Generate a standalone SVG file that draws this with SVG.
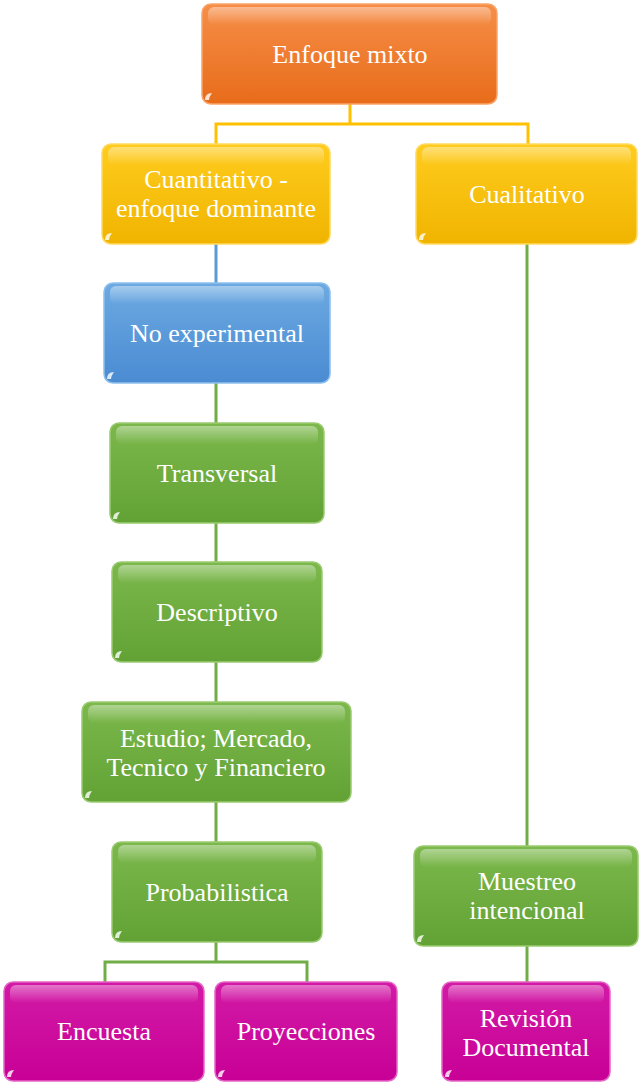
<svg xmlns="http://www.w3.org/2000/svg" width="639" height="1082" viewBox="0 0 639 1082">
  <defs>
    <linearGradient id="gOrange" x1="0" y1="0" x2="0" y2="1">
      <stop offset="0" stop-color="#F68E48"/>
      <stop offset="1" stop-color="#E86C1A"/>
    </linearGradient>
    <linearGradient id="gYellow" x1="0" y1="0" x2="0" y2="1">
      <stop offset="0" stop-color="#FFCC1E"/>
      <stop offset="1" stop-color="#F0B400"/>
    </linearGradient>
    <linearGradient id="gBlue" x1="0" y1="0" x2="0" y2="1">
      <stop offset="0" stop-color="#6DAAE2"/>
      <stop offset="1" stop-color="#4A8BD2"/>
    </linearGradient>
    <linearGradient id="gGreen" x1="0" y1="0" x2="0" y2="1">
      <stop offset="0" stop-color="#7CB84C"/>
      <stop offset="1" stop-color="#62A235"/>
    </linearGradient>
    <linearGradient id="gPink" x1="0" y1="0" x2="0" y2="1">
      <stop offset="0" stop-color="#D21AA6"/>
      <stop offset="1" stop-color="#C80096"/>
    </linearGradient>
    <linearGradient id="gShine" x1="0" y1="0" x2="0" y2="1">
      <stop offset="0" stop-color="#FFFFFF" stop-opacity="0.4"/>
      <stop offset="1" stop-color="#FFFFFF" stop-opacity="0"/>
    </linearGradient>
    <!-- glossy glint in the lower-left corner of each box -->
    <path id="glint" d="M0,0 Q0,-7 7,-7 Q4,-3 4,0 Z" fill="#FFFFFF" fill-opacity="0.8"/>
  </defs>
  <style>
    .box { stroke-width: 1.5; }
    .shine { fill: url(#gShine); }
    .lbl { font-size: 26px; fill: #FFFFFF; text-anchor: middle; }
    .con { fill: none; stroke-width: 3; }
  </style>

  <!-- connectors -->
  <g id="connectors">
    <path class="con" stroke="#FFC000" d="M350,104 V124 M216,145 V124 H528 V145"/>
    <path class="con" stroke="#5B9BD5" d="M216,244 V284"/>
    <path class="con" stroke="#70AD47" d="M216,383 V423 M216,523 V562 M216,662 V702 M216,802 V842"/>
    <path class="con" stroke="#70AD47" d="M216,942 V962 H105 V982 M216,962 H307 V982"/>
    <path class="con" stroke="#70AD47" d="M527,244 V846 M527,946 V982"/>
  </g>

  <g font-family="Liberation Serif, Times New Roman, serif">
  <g id="n-enfoque">
    <rect class="box" x="202" y="4" width="295" height="100" rx="9" fill="url(#gOrange)" stroke="#F9A46A"/>
    <rect class="shine" x="208" y="7" width="283" height="18" rx="6"/>
    <use href="#glint" x="205" y="100"/>
    <text class="lbl" x="350" y="63">Enfoque mixto</text>
  </g>

  <g id="n-cuantitativo">
    <rect class="box" x="102" y="144" width="228" height="100" rx="9" fill="url(#gYellow)" stroke="#FFDA60"/>
    <rect class="shine" x="108" y="147" width="216" height="18" rx="6"/>
    <use href="#glint" x="105" y="240"/>
    <text class="lbl" x="216" y="188">Cuantitativo -</text>
    <text class="lbl" x="216" y="217">enfoque dominante</text>
  </g>

  <g id="n-cualitativo">
    <rect class="box" x="416" y="144" width="221" height="100" rx="9" fill="url(#gYellow)" stroke="#FFDA60"/>
    <rect class="shine" x="422" y="147" width="209" height="18" rx="6"/>
    <use href="#glint" x="419" y="240"/>
    <text class="lbl" x="527" y="203">Cualitativo</text>
  </g>

  <g id="n-noexp">
    <rect class="box" x="104" y="283" width="226" height="100" rx="9" fill="url(#gBlue)" stroke="#8EC0EC"/>
    <rect class="shine" x="110" y="286" width="214" height="18" rx="6"/>
    <use href="#glint" x="107" y="379"/>
    <text class="lbl" x="217" y="342">No experimental</text>
  </g>

  <g id="n-transversal">
    <rect class="box" x="110" y="423" width="214" height="100" rx="9" fill="url(#gGreen)" stroke="#9ACB72"/>
    <rect class="shine" x="116" y="426" width="202" height="18" rx="6"/>
    <use href="#glint" x="113" y="519"/>
    <text class="lbl" x="217" y="482">Transversal</text>
  </g>

  <g id="n-descriptivo">
    <rect class="box" x="112" y="562" width="210" height="100" rx="9" fill="url(#gGreen)" stroke="#9ACB72"/>
    <rect class="shine" x="118" y="565" width="198" height="18" rx="6"/>
    <use href="#glint" x="115" y="658"/>
    <text class="lbl" x="217" y="621">Descriptivo</text>
  </g>

  <g id="n-estudio">
    <rect class="box" x="82" y="702" width="269" height="100" rx="9" fill="url(#gGreen)" stroke="#9ACB72"/>
    <rect class="shine" x="88" y="705" width="257" height="18" rx="6"/>
    <use href="#glint" x="85" y="798"/>
    <text class="lbl" x="216" y="747">Estudio; Mercado,</text>
    <text class="lbl" x="216" y="776">Tecnico y Financiero</text>
  </g>

  <g id="n-probabilistica">
    <rect class="box" x="112" y="842" width="210" height="100" rx="9" fill="url(#gGreen)" stroke="#9ACB72"/>
    <rect class="shine" x="118" y="845" width="198" height="18" rx="6"/>
    <use href="#glint" x="115" y="938"/>
    <text class="lbl" x="217" y="901">Probabilistica</text>
  </g>

  <g id="n-encuesta">
    <rect class="box" x="4" y="982" width="200" height="99" rx="9" fill="url(#gPink)" stroke="#E466C6"/>
    <rect class="shine" x="10" y="985" width="188" height="18" rx="6"/>
    <use href="#glint" x="7" y="1077"/>
    <text class="lbl" x="104" y="1040">Encuesta</text>
  </g>

  <g id="n-proyecciones">
    <rect class="box" x="215" y="982" width="182" height="99" rx="9" fill="url(#gPink)" stroke="#E466C6"/>
    <rect class="shine" x="221" y="985" width="170" height="18" rx="6"/>
    <use href="#glint" x="218" y="1077"/>
    <text class="lbl" x="306" y="1040">Proyecciones</text>
  </g>

  <g id="n-muestreo">
    <rect class="box" x="414" y="846" width="224" height="100" rx="9" fill="url(#gGreen)" stroke="#9ACB72"/>
    <rect class="shine" x="420" y="849" width="212" height="18" rx="6"/>
    <use href="#glint" x="417" y="942"/>
    <text class="lbl" x="527" y="890">Muestreo</text>
    <text class="lbl" x="527" y="919">intencional</text>
  </g>

  <g id="n-revision">
    <rect class="box" x="442" y="982" width="168" height="99" rx="9" fill="url(#gPink)" stroke="#E466C6"/>
    <rect class="shine" x="448" y="985" width="156" height="18" rx="6"/>
    <use href="#glint" x="445" y="1077"/>
    <text class="lbl" x="526" y="1027">Revisión</text>
    <text class="lbl" x="526" y="1056">Documental</text>
  </g>
  </g>
</svg>
